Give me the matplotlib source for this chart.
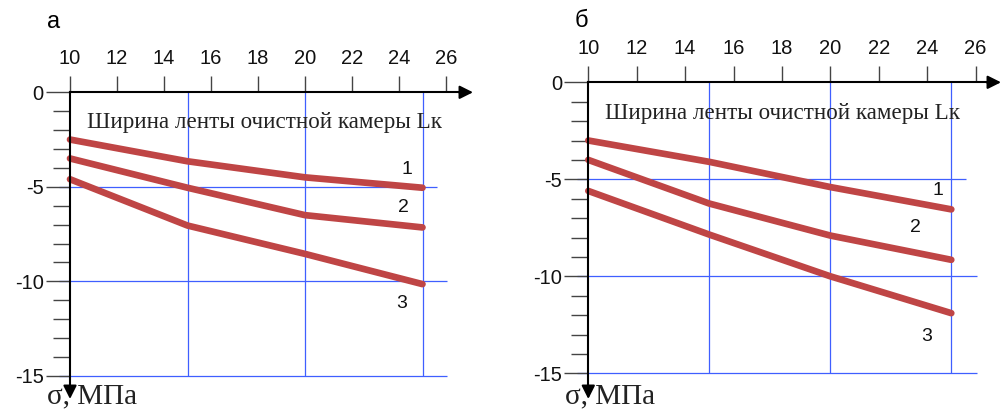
import matplotlib
matplotlib.use("Agg")
import matplotlib.pyplot as plt
from matplotlib.ticker import FixedLocator

# ---- data ----
width_L = [10, 15, 20, 25]                     # ширина ленты, м
a_line1 = [-2.5, -3.65, -4.5, -5.05]
a_line2 = [-3.5, -5.05, -6.5, -7.15]
a_line3 = [-4.6, -7.05, -8.55, -10.15]
b_line1 = [-3.0, -4.1, -5.4, -6.55]
b_line2 = [-4.0, -6.25, -7.9, -9.15]
b_line3 = [-5.6, -7.85, -10.0, -11.9]
x_ticks = [10, 12, 14, 16, 18, 20, 22, 24, 26]
y_ticks = [0, -5, -10, -15]
y_minor = [-1, -2, -3, -4, -6, -7, -8, -9, -11, -12, -13, -14]
series_names = ["1", "2", "3"]
panel_names = ["а", "б"]
x_title = "Ширина ленты очистной камеры Lк"
y_title = "σ, МПа"

plt.rcParams["font.family"] = ["Liberation Sans", "DejaVu Sans"]

LINE_C = "#BF4545"
GRID_C = "#3F5FFF"
TICK_C = "#444444"

W, H = 1002, 409
fig = plt.figure(figsize=(W / 100, H / 100), dpi=100)


def make_panel(left_px, width_px, x0_px, ppu_x, y0_px, ppu_y):
    ax = fig.add_axes([left_px / W, 0, width_px / W, 1])
    xlo = 10 - x0_px / ppu_x
    xhi = 10 + (width_px - x0_px) / ppu_x
    ylo = -(H - y0_px) / ppu_y
    yhi = y0_px / ppu_y
    ax.set_xlim(xlo, xhi)
    ax.set_ylim(ylo, yhi)
    ax.patch.set_alpha(0)

    # grid (blue)
    ax.hlines(-5, 9.55, 25.6, color=GRID_C, lw=0.9, zorder=1)
    ax.hlines([-10, -15], 9.55, 26.05, color=GRID_C, lw=0.9, zorder=1)
    ax.vlines([15, 20, 25], -15, 0, color=GRID_C, lw=0.9, zorder=1)

    for s in ["right", "bottom"]:
        ax.spines[s].set_visible(False)
    ax.spines["left"].set_position(("data", 10))
    ax.spines["top"].set_position(("data", 0))
    for s in ["left", "top"]:
        ax.spines[s].set_linewidth(1.5)
        ax.spines[s].set_zorder(4)

    ax.xaxis.set_ticks_position("top")
    ax.set_xticks(x_ticks)
    ax.set_xticklabels([str(t) for t in x_ticks])
    ax.tick_params(axis="x", direction="out", length=11.5, width=1.0, color=TICK_C,
                   labelsize=14.5, pad=6, labelcolor="#111111")
    ax.yaxis.set_ticks_position("left")
    ax.set_yticks(y_ticks)
    ax.set_yticklabels([str(t) for t in y_ticks])
    ax.yaxis.set_minor_locator(FixedLocator(y_minor))
    ax.tick_params(axis="y", which="major", direction="out", length=17, width=1.0,
                   color=TICK_C, labelsize=14.5, pad=2, labelcolor="#111111")
    ax.tick_params(axis="y", which="minor", direction="out", length=12.5, width=1.0,
                   color=TICK_C)
    return ax


def finish(ax, series, labels_pos, x_arrow, y_arrow, txt_xy, ytitle_xy):
    ax.spines["top"].set_bounds(10, x_arrow - 0.3)
    ax.spines["left"].set_bounds(y_arrow + 0.4, 0)
    ax.annotate("", xy=(x_arrow, 0), xytext=(x_arrow - 0.6, 0),
                arrowprops=dict(arrowstyle="-|>,head_length=0.4,head_width=0.2",
                                mutation_scale=20, color="black", lw=1.5,
                                shrinkA=0, shrinkB=0), zorder=5, annotation_clip=False)
    ax.annotate("", xy=(10, y_arrow), xytext=(10, y_arrow + 0.7),
                arrowprops=dict(arrowstyle="-|>,head_length=0.4,head_width=0.2",
                                mutation_scale=20, color="black", lw=1.5,
                                shrinkA=0, shrinkB=0), zorder=5, annotation_clip=False)
    for vals in series:
        ax.plot(width_L, vals, color=LINE_C, lw=4.8, solid_capstyle="round",
                solid_joinstyle="round", zorder=3, clip_on=False)
    for name, (lx, ly) in zip(series_names, labels_pos):
        ax.text(lx, ly, name, ha="center", va="center", fontsize=14,
                color="#111111", zorder=6)
    ax.text(txt_xy[0], txt_xy[1], x_title, ha="left", va="baseline", fontsize=16.6,
            family="Liberation Serif", color="#222222", zorder=6)
    ax.text(ytitle_xy[0], ytitle_xy[1], y_title, ha="left", va="baseline", fontsize=21,
            family="Liberation Serif", color="#222222", zorder=2)


axA = make_panel(0, 500, 70, 23.5, 92.3, 18.9)
finish(axA, [a_line1, a_line2, a_line3],
       [(24.34, -4.06), (24.17, -6.07), (24.13, -11.15)],
       x_arrow=10 + (473 - 70) / 23.5, y_arrow=-(399 - 92.3) / 18.9,
       txt_xy=(10.72, -1.89), ytitle_xy=(9.02, -(403 - 92.3) / 18.9))

axB = make_panel(500, 502, 88.3, 24.2, 82.3, 19.4)
finish(axB, [b_line1, b_line2, b_line3],
       [(24.45, -5.6), (23.5, -7.5), (23.99, -13.12)],
       x_arrow=10 + (1001 - 588.3) / 24.2, y_arrow=-(399 - 82.3) / 19.4,
       txt_xy=(10.69, -1.89), ytitle_xy=(9.04, -(403 - 82.3) / 19.4))

fig.text(47 / W, 1 - 28 / H, panel_names[0], fontsize=17, va="baseline", ha="left")
fig.text(575 / W, 1 - 27 / H, panel_names[1], fontsize=17, va="baseline", ha="left")

fig.savefig("out.png", dpi=100)
